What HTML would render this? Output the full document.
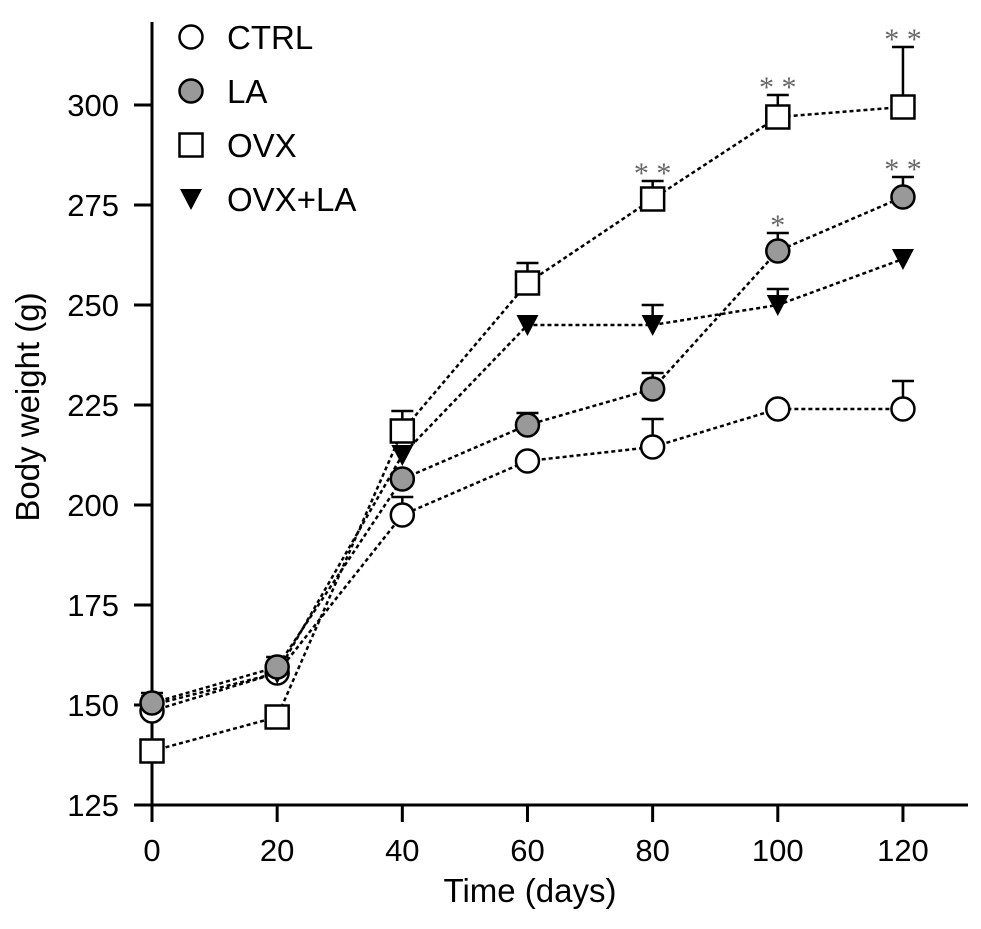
<!DOCTYPE html>
<html><head><meta charset="utf-8"><style>
body{margin:0;background:#fff}
svg{font-family:"Liberation Sans",Arial,sans-serif}
</style></head><body>
<svg id="chart" width="981" height="924" viewBox="0 0 981 924" xmlns="http://www.w3.org/2000/svg">
<g id="axes"></g><g id="series"></g><g id="legend"></g>
</svg>
<script>
const days=[0,20,40,60,80,100,120];
const yTicks=[125,150,175,200,225,250,275,300];
const ctrl=[148.5,158,197.5,211,214.5,224,224];
const ctrlErr=[0,0,4.5,0,7,0,7];
const la=[150.5,159.5,206.5,220,229,263.5,277];
const laErr=[2.5,2.5,0,3,4,4.5,5];
const ovx=[138.5,147,218.5,255.5,276.5,297,299.5];
const ovxErr=[0,0,5,5,4.5,5.5,15];
const ovxla=[150,158,212.5,245,245,250,261.5];
const ovxlaErr=[0,0,0,0,5,4,0];
const laStars=["","","","","","*","**"];
const ovxStars=["","","","","**","**","**"];
const NS="http://www.w3.org/2000/svg";
const X=d=>152+d*6.258;
const Y=v=>805-(v-125)*4;
function mk(tag,attrs,parent,text){const e=document.createElementNS(NS,tag);for(const k in attrs)e.setAttribute(k,attrs[k]);if(text!==undefined)e.textContent=text;parent.appendChild(e);return e;}
const axes=document.getElementById('axes'),ser=document.getElementById('series'),leg=document.getElementById('legend');
let e=mk('line',{x1:152,y1:22,x2:152,y2:822,stroke:'#000','stroke-width':3},axes);


e=mk('line',{x1:134,y1:805,x2:968,y2:805,stroke:'#000','stroke-width':3},axes);


yTicks.forEach(t=>{mk('line',{x1:134,y1:Y(t),x2:152,y2:Y(t),stroke:'#000','stroke-width':3},axes);
 const l=mk('text',{x:119,y:Y(t)+11,'text-anchor':'end','font-size':31},axes,String(t));
 
 });
days.forEach(d=>{mk('line',{x1:X(d),y1:805,x2:X(d),y2:822,stroke:'#000','stroke-width':3},axes);
 const l=mk('text',{x:X(d),y:861,'text-anchor':'middle','font-size':31},axes,String(d));
 
 });
e=mk('text',{x:530,y:902,'text-anchor':'middle','font-size':33},axes,'Time (days)');


e=mk('text',{x:0,y:0,'text-anchor':'middle','font-size':33,transform:'translate(39,407) rotate(-90)'},axes,'Body weight (g)');


function marker(type,x,y,g){
 if(type==='circle')return mk('circle',{cx:x,cy:y,r:11.5,fill:'#fff',stroke:'#000','stroke-width':2.5},g);
 if(type==='gcircle')return mk('circle',{cx:x,cy:y,r:11.5,fill:'#999',stroke:'#000','stroke-width':2.5},g);
 if(type==='square')return mk('rect',{x:x-11.5,y:y-11.5,width:23,height:23,fill:'#fff',stroke:'#000','stroke-width':2.5},g);
 return mk('path',{d:`M${x-11},${y-10}L${x+11},${y-10}L${x},${y+11}Z`,fill:'#000'},g);
}
function series(name,vals,errs,type){
 const g=mk('g',{},ser);
 
 
 mk('polyline',{points:days.map((d,i)=>X(d)+','+Y(vals[i])).join(' '),fill:'none',stroke:'#000','stroke-width':2.5,'stroke-dasharray':'4,3'},g);
 days.forEach((d,i)=>{if(errs[i]>0){const yt=Y(vals[i]+errs[i]);
  mk('line',{x1:X(d),y1:Y(vals[i]),x2:X(d),y2:yt,stroke:'#000','stroke-width':2.5},g);
  mk('line',{x1:X(d)-11,y1:yt,x2:X(d)+11,y2:yt,stroke:'#000','stroke-width':2.5},g);}});
 days.forEach((d,i)=>{const m=marker(type,X(d),Y(vals[i]),g);
  
  });
}
series('ovx',ovx,ovxErr,'square');
series('ctrl',ctrl,ctrlErr,'circle');
series('ovx-la',ovxla,ovxlaErr,'tri');
series('la',la,laErr,'gcircle');
function stars(arr,vals,errs){days.forEach((d,i)=>{if(arr[i]){const s=mk('text',{x:X(d),y:Y(vals[i]+errs[i])+2,'text-anchor':'middle','font-size':30,fill:'#666','font-family':'Liberation Serif,serif'},ser,arr[i].split('').join(' '));
 
 }});}
stars(laStars,la,laErr);stars(ovxStars,ovx,ovxErr);
const legItems=[['CTRL','circle'],['LA','gcircle'],['OVX','square'],['OVX+LA','tri']];
legItems.forEach((it,i)=>{const y=37+i*54;const g=mk('g',{},leg);
 
 
 marker(it[1],191,y,g);
 mk('text',{x:227,y:y+12,'font-size':33},g,it[0]);});
</script>
</body></html>
